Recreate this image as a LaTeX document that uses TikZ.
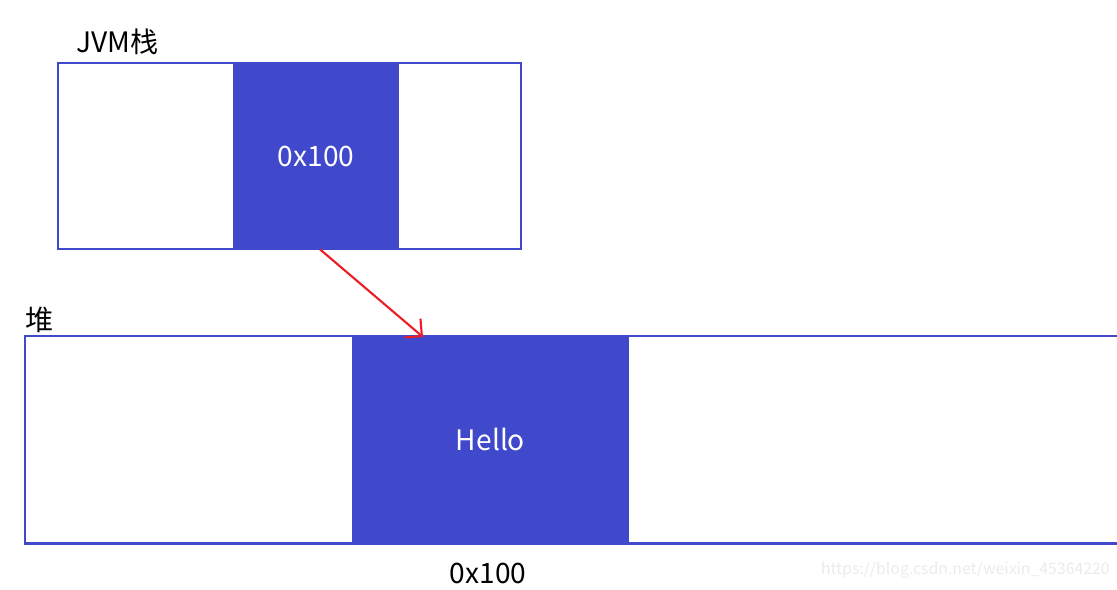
\documentclass[tikz,border=0pt]{standalone}
\usepackage{fontspec}
\setmainfont{Noto Sans CJK SC}
\usetikzlibrary{arrows.meta}

\definecolor{boxblue}{RGB}{64,72,204}
\definecolor{arrowred}{RGB}{237,28,36}

\begin{document}
\begin{tikzpicture}[x=0.02cm, y=-0.02cm,
    frame/.style={draw=boxblue, line width=1.7pt},
    cell/.style={fill=boxblue, text=white, inner sep=0pt, font=\fontsize{16}{18}\selectfont},
    tag/.style={font=\fontsize{16}{18}\selectfont, inner sep=0pt}]
    \useasboundingbox (0,0) rectangle (1117,589);

    % JVM stack
    \node[tag, anchor=west] (stacklabel) at (76,42) {JVM栈};
    \draw[frame] (58,63) rectangle (521,249);
    \node[cell, minimum width=3.32cm, minimum height=3.72cm] (ref) at (316,156) {0x100};

    % Heap (runs off the right edge)
    \node[tag, anchor=west] (heaplabel) at (25,320) {堆};
    \draw[frame] (1130,336) -- (25,336) -- (25,543) -- (1130,543);
    \node[cell, minimum width=5.54cm, minimum height=4.14cm] (obj) at (490.5,439.5) {Hello};
    \node[tag] (addr) at (488,573) {0x100};

    % reference points to the object
    \coordinate (tip) at (423,337);
    \draw[arrowred, line width=1.2pt, -{Straight Barb[length=7pt, width=14pt]}] ([xshift=0.08cm]ref.south) -- (tip);

    % watermark
    \node[anchor=east, inner sep=0pt, text=black!8, font=\fontsize{9}{10}\selectfont] (mark) at (1110,570) {https://blog.csdn.net/weixin\_45364220};
\end{tikzpicture}
\end{document}
